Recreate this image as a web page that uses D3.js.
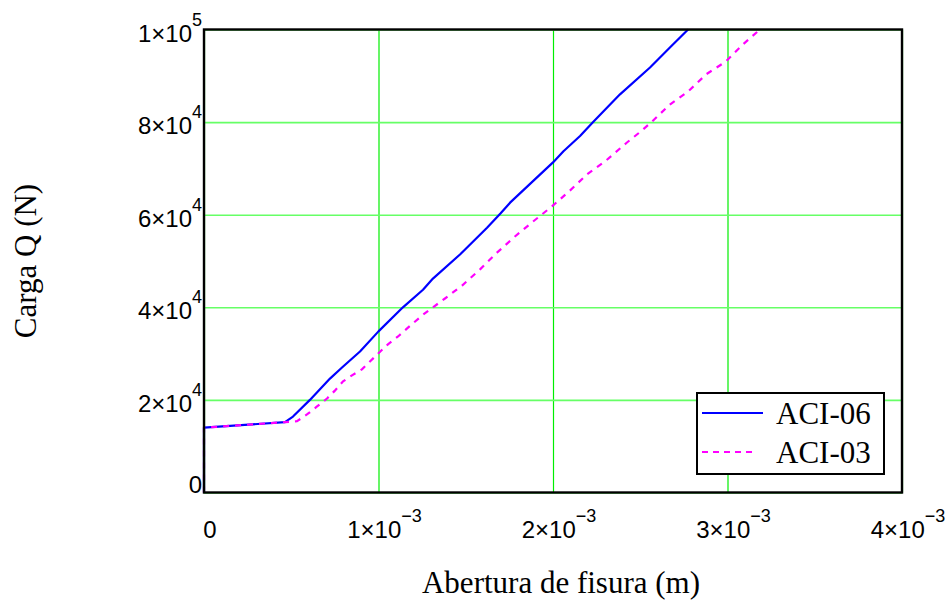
<!DOCTYPE html>
<html>
<head>
<meta charset="utf-8">
<script src="https://cdn.jsdelivr.net/npm/d3@7"></script>
<style>
  body { margin: 0; background: #ffffff; }
  svg { display: block; }
</style>
</head>
<body>
<svg id="chart" width="949" height="607"></svg>
<script>
// Crack opening (m) vs. load Q (N) for the two code formulations
const aci06 = [
  [0, 0], [0, 14000], [0.000464, 15200], [0.00051, 16400], [0.000607, 20000],
  [0.000722, 24600], [0.000791, 27000], [0.000894, 30450], [0.001, 34800],
  [0.00114, 40000], [0.001255, 43800], [0.001312, 46200], [0.001467, 51400],
  [0.001622, 57200], [0.0017, 60300], [0.001754, 62600], [0.002, 71300],
  [0.00206, 73700], [0.002155, 77000], [0.00223, 80000], [0.002384, 86000],
  [0.002556, 91800], [0.00267, 96100], [0.002774, 100000]
];
const aci03 = [
  [0, 0], [0, 14000], [0.000464, 15200], [0.000533, 15400], [0.00059, 16850],
  [0.000648, 18580], [0.000705, 20300], [0.00075, 22000], [0.000797, 24000],
  [0.000848, 25300], [0.000905, 26600], [0.000951, 28300], [0.001003, 30200],
  [0.001054, 32000], [0.001112, 33700], [0.001169, 35600], [0.001255, 38400],
  [0.001312, 40000], [0.001381, 41900], [0.001479, 44700], [0.001582, 48200],
  [0.001679, 51800], [0.001782, 55300], [0.001885, 58500], [0.001994, 61800],
  [0.002097, 65200], [0.002195, 68700], [0.002304, 71700], [0.002424, 75600],
  [0.00251, 78200], [0.002567, 80100], [0.00267, 83800], [0.002774, 86600],
  [0.002877, 90300], [0.002991, 93100], [0.003089, 96800], [0.003186, 100000]
];
const seriesNames = ["ACI-06", "ACI-03"];

const xTicks = [0, 0.001, 0.002, 0.003, 0.004];
const xTickBase = ["0", "1×10", "2×10", "3×10", "4×10"];
const xTickExp = ["", "−3", "−3", "−3", "−3"];

const yTicks = [0, 20000, 40000, 60000, 80000, 100000];
const yTickBase = ["0", "2×10", "4×10", "6×10", "8×10", "1×10"];
const yTickExp = ["", "4", "4", "4", "4", "5"];

const xTitle = "Abertura de fisura (m)";
const yTitle = "Carga Q (N)";

const svg = d3.select("#chart");
const plot = { left: 204, right: 902, top: 29.5, bottom: 492.5 };

const x = d3.scaleLinear().domain([0, 0.004]).range([plot.left, plot.right]);
const y = d3.scaleLinear().domain([0, 100000]).range([plot.bottom, plot.top]);

const sans = "'Liberation Sans', Arial, sans-serif";
const serif = "'Liberation Serif', 'Times New Roman', serif";

// Grid lines
const gx = svg.append("g")
  .attr("transform", `translate(0,${plot.bottom})`)
  .call(d3.axisBottom(x).tickValues(xTicks).tickSize(-(plot.bottom - plot.top)).tickFormat(""));
gx.select(".domain").remove();
gx.selectAll(".tick line").attr("stroke", "#00ee00").attr("stroke-width", 1.2);

const gy = svg.append("g")
  .attr("transform", `translate(${plot.left},0)`)
  .call(d3.axisLeft(y).tickValues(yTicks).tickSize(-(plot.right - plot.left)).tickFormat(""));
gy.select(".domain").remove();
gy.selectAll(".tick line").attr("stroke", "#66ff66").attr("stroke-width", 1.6);

// Series
const line = d3.line().x(d => x(d[0])).y(d => y(d[1]));
svg.append("path").datum(aci06)
  .attr("d", line).attr("fill", "none")
  .attr("stroke", "#0000ff").attr("stroke-width", 2.2)
  .attr("stroke-linejoin", "round");
svg.append("path").datum(aci03)
  .attr("d", line).attr("fill", "none")
  .attr("stroke", "#ff00ff").attr("stroke-width", 2.2)
  .attr("stroke-dasharray", "6,6");

// Frame
svg.append("rect")
  .attr("x", plot.left).attr("y", plot.top)
  .attr("width", plot.right - plot.left).attr("height", plot.bottom - plot.top)
  .attr("fill", "none").attr("stroke", "#000").attr("stroke-width", 2.4);

// Tick labels with superscript exponents
function tickLabel(sel, base, exp) {
  sel.append("tspan").text(base);
  if (exp) {
    sel.append("tspan").attr("font-size", 18).attr("dy", -16).text(exp);
  }
}

yTicks.forEach((v, i) => {
  const t = svg.append("text")
    .attr("x", 202)
    .attr("y", i === 0 ? y(v) : y(v) + 12)
    .attr("text-anchor", "end")
    .attr("font-family", sans).attr("font-size", 24).attr("fill", "#000");
  tickLabel(t, yTickBase[i], yTickExp[i]);
});

xTicks.forEach((v, i) => {
  const t = svg.append("text")
    .attr("x", x(v) + 6)
    .attr("y", 538)
    .attr("text-anchor", "middle")
    .attr("font-family", sans).attr("font-size", 24).attr("fill", "#000");
  tickLabel(t, xTickBase[i], xTickExp[i]);
});

// Axis titles
svg.append("text")
  .attr("x", 561).attr("y", 593)
  .attr("text-anchor", "middle")
  .attr("font-family", serif).attr("font-size", 31).attr("fill", "#000")
  .text(xTitle);

svg.append("text")
  .attr("transform", "translate(36,261) rotate(-90)")
  .attr("text-anchor", "middle")
  .attr("font-family", serif).attr("font-size", 31).attr("fill", "#000")
  .text(yTitle);

// Legend
const legend = svg.append("g");
legend.append("rect")
  .attr("x", 697).attr("y", 393).attr("width", 187).attr("height", 81)
  .attr("fill", "#fff").attr("stroke", "#000").attr("stroke-width", 2);
const legendStyles = [
  { color: "#0000ff", dash: null, ly: 413 },
  { color: "#ff00ff", dash: "6,5", ly: 452 }
];
seriesNames.forEach((name, i) => {
  const s = legendStyles[i];
  legend.append("line")
    .attr("x1", 702).attr("x2", i === 0 ? 763 : 757)
    .attr("y1", s.ly).attr("y2", s.ly)
    .attr("stroke", s.color).attr("stroke-width", 2)
    .attr("stroke-dasharray", s.dash);
  legend.append("text")
    .attr("x", 776).attr("y", s.ly + 11)
    .attr("font-family", serif).attr("font-size", 31).attr("fill", "#000")
    .text(name);
});
</script>
</body>
</html>
